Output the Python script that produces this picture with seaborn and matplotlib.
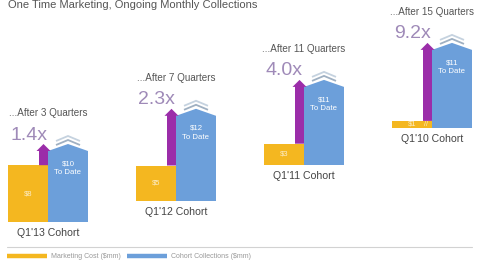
import matplotlib
matplotlib.use("Agg")
import matplotlib.pyplot as plt
import matplotlib.transforms as mtransforms
from matplotlib.patches import Polygon
from matplotlib.lines import Line2D
import pandas as pd
import seaborn as sns

# ---- data ----
cohorts = ["Q1'13 Cohort", "Q1'12 Cohort", "Q1'11 Cohort", "Q1'10 Cohort"]
quarters = [3, 7, 11, 15]
marketing_cost = [8, 5, 3, 1]
collections = [10, 12, 11, 11]
multiples = ["1.4x", "2.3x", "4.0x", "9.2x"]
series_names = ["Marketing Cost ($mm)", "Cohort Collections ($mm)"]
title = "One Time Marketing, Ongoing Monthly Collections"

# ---- style / layout ----
YELLOW = "#F4B720"
BLUE = "#6C9FDA"
PURPLE = "#9B2DA9"
LAVENDER = "#9F8AB8"
W, H = 480, 263
PX_PER_USD = 7.1
SPACING = 128
FIRST_CENTER = 48
baseline_px = [222, 201, 165, 128]
baselines = [(H - b) / PX_PER_USD for b in baseline_px]

sns.set_theme(style="white")
plt.rcParams["font.family"] = ["Liberation Sans", "DejaVu Sans"]

fig = plt.figure(figsize=(W / 100, H / 100), dpi=100)
ax = fig.add_axes([0, 0, 1, 1])

df = pd.DataFrame({
    "cohort": cohorts * 2,
    "series": [series_names[0]] * len(cohorts) + [series_names[1]] * len(cohorts),
    "value": marketing_cost + collections,
})
sns.barplot(data=df, x="cohort", y="value", hue="series", order=cohorts,
            hue_order=series_names, palette=[YELLOW, BLUE], width=80 / SPACING,
            gap=0, dodge=True, errorbar=None, saturation=1, linewidth=0,
            bottom=baselines, legend=False, ax=ax)
ax.set_xlim(-FIRST_CENTER / SPACING, (W - FIRST_CENTER) / SPACING)
ax.set_ylim(0, H / PX_PER_USD)
ax.axis("off")


def dx(p):
    return p / SPACING


def dy(p):
    return p / PX_PER_USD


for i in range(len(cohorts)):
    yb = ax.containers[0][i]
    bb = ax.containers[1][i]
    x0y, wy = yb.get_x(), yb.get_width()
    y_base = yb.get_y()
    ytop_y = y_base + yb.get_height()
    x0b, wb = bb.get_x(), bb.get_width()
    ytop_b = bb.get_y() + bb.get_height()
    cx = x0b + wb / 2
    peak = ytop_b + dy(7)
    # roof
    ax.add_patch(Polygon([(x0b, ytop_b - dy(1)), (x0b, ytop_b), (cx, peak),
                          (x0b + wb, ytop_b), (x0b + wb, ytop_b - dy(1))],
                         closed=True, facecolor=BLUE, edgecolor="none", zorder=3))
    # chevrons
    for off, col in [(4, "#9fb0c2"), (8, "#c5d2df")]:
        ax.plot([cx - dx(12), cx, cx + dx(12)],
                [peak + dy(off) - dy(5), peak + dy(off), peak + dy(off) - dy(5)],
                color=col, lw=1.3, solid_joinstyle="miter", solid_capstyle="butt", zorder=3)
    # arrow
    xr = x0y + wy
    xc = xr - dx(4.5)
    hb = peak - dy(7)
    ax.add_patch(Polygon([(xr - dx(9), ytop_y), (xr, ytop_y), (xr, hb),
                          (xr + dx(2.5), hb), (xc, peak), (xr - dx(11.5), hb),
                          (xr - dx(9), hb)],
                         closed=True, facecolor=PURPLE, edgecolor="none", zorder=4))
    # value labels
    ax.text(x0y + wy / 2, (y_base + ytop_y) / 2, f"${marketing_cost[i]}",
            ha="center", va="center", fontsize=5.5, color="white", alpha=0.75, zorder=5)
    if i == len(cohorts) - 1:
        ax.text(x0y + wy - dx(6), (y_base + ytop_y) / 2, "//", ha="center", va="center",
                fontsize=5, color="white", alpha=0.75, zorder=5)
    ax.text(cx, ytop_b - dy(17), f"${collections[i]}\nTo Date", ha="center", va="center",
            fontsize=5.6, color="white", linespacing=1.35, zorder=5)
    # multiplier
    ty = peak + dy(9)
    ax.text(x0y + dx(2), ty, multiples[i], ha="left", va="center", fontsize=14,
            color=LAVENDER, zorder=5)
    ax.text(xr, ty + dy(22), f"...After {quarters[i]} Quarters", ha="center", va="center",
            fontsize=7.1, color="#555555")
    ax.text(xr, y_base - dy(11), cohorts[i], ha="center", va="center",
            fontsize=7.6, color="#444444")

# pixel transform for frame elements
px = mtransforms.Affine2D().scale(1 / W, -1 / H).translate(0, 1) + fig.transFigure
fig.text(8, 5, title, transform=px, ha="left", va="center", fontsize=8, color="#555555")
fig.add_artist(Line2D([7, 472], [247, 247], transform=px, color="#d2d2d2", lw=0.8))
fig.add_artist(Line2D([7, 47], [256, 256], transform=px, color=YELLOW, lw=3.2,
                      solid_capstyle="butt"))
fig.text(51, 256, series_names[0], transform=px, ha="left", va="center",
         fontsize=5, color="#999999")
fig.add_artist(Line2D([127, 167], [256, 256], transform=px, color=BLUE, lw=3.2,
                      solid_capstyle="butt"))
fig.text(171, 256, series_names[1], transform=px, ha="left", va="center",
         fontsize=5, color="#999999")

fig.savefig("out.png", dpi=100, facecolor="white")
